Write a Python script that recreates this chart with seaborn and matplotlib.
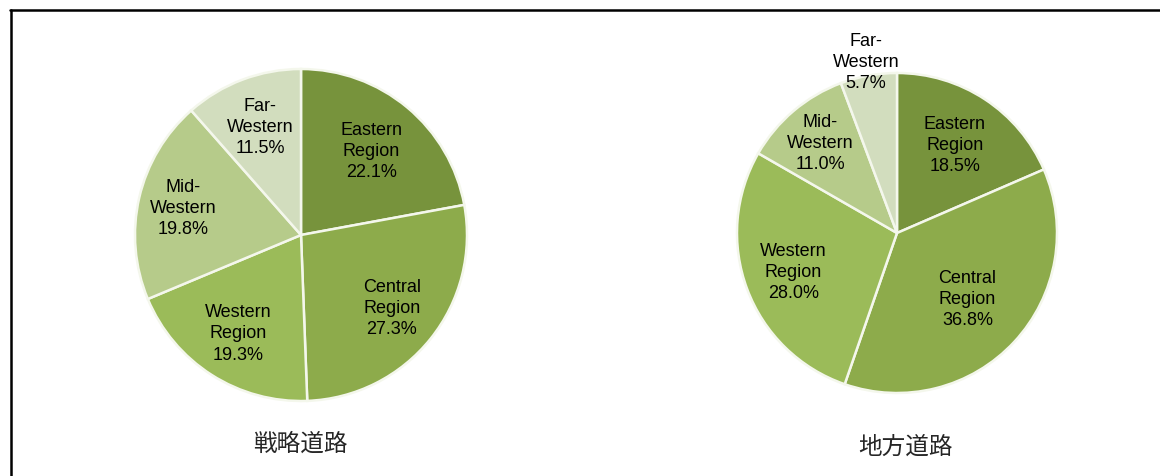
import numpy as np
import matplotlib
matplotlib.use('Agg')
import matplotlib.pyplot as plt
import seaborn as sns
from matplotlib.lines import Line2D

# 地域別の道路延長の割合
regions = ['Eastern\nRegion', 'Central\nRegion', 'Western\nRegion', 'Mid-\nWestern', 'Far-\nWestern']
strategic_share = [22.1, 27.3, 19.3, 19.8, 11.5]
local_share = [18.5, 36.8, 28.0, 11.0, 5.7]
titles = ['戦略道路', '地方道路']
colors = ['#77933C', '#8DAB4B', '#9BBB59', '#B6CB8A', '#D2DDBE']

sns.set_theme(style='white')
plt.rcParams['font.family'] = ['Liberation Sans', 'Noto Sans CJK JP', 'DejaVu Sans']

W, H = 1160, 477
fig = plt.figure(figsize=(W / 100, H / 100), dpi=100)

# 円の中心と半径 (ピクセル)
pies = [
    dict(values=strategic_share, cx=301, cy=236, r=166, dist=[0.66, 0.70, 0.70, 0.73, 0.70],
         title_x=300, title_y=444),
    dict(values=local_share, cx=897, cy=234, r=160, dist=[0.66, 0.60, 0.69, 0.74, 1.09],
         title_x=905, title_y=447),
]

for p, title in zip(pies, titles):
    cx, cy, r = p['cx'], H - p['cy'], p['r']
    ax = fig.add_axes([(cx - r) / W, (cy - r) / H, 2 * r / W, 2 * r / H])
    wedges, _ = ax.pie(p['values'], colors=colors, startangle=90, counterclock=False,
                       radius=1, wedgeprops=dict(edgecolor='#F4F7EC', linewidth=1.8))
    ax.set_xlim(-1, 1)
    ax.set_ylim(-1, 1)
    ax.set_aspect('equal')
    ax.axis('off')
    for w, lab, v, d in zip(wedges, regions, p['values'], p['dist']):
        ang = np.deg2rad((w.theta1 + w.theta2) / 2)
        ax.text(d * np.cos(ang), d * np.sin(ang), f'{lab}\n{v:.1f}%',
                ha='center', va='center', fontsize=13, linespacing=1.32,
                color='black', clip_on=False)
    fig.text(p['title_x'] / W, 1 - p['title_y'] / H, title, ha='center', va='center',
             fontsize=17, family=['Noto Sans CJK JP', 'DejaVu Sans'])

# 外枠 (上と左のみ)
fig.add_artist(Line2D([10 / W, 1], [1 - 10.5 / H, 1 - 10.5 / H], color='black', lw=1.8))
fig.add_artist(Line2D([10.5 / W, 10.5 / W], [0, 1 - 10.5 / H], color='black', lw=1.8))

fig.savefig('out.png', dpi=100)
